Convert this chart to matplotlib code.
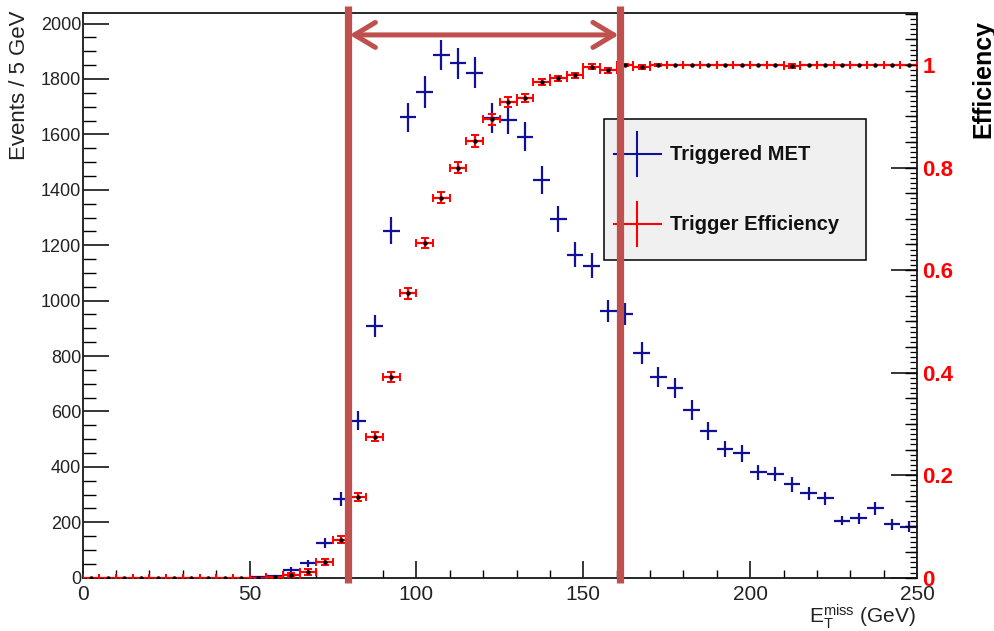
import matplotlib
matplotlib.use("Agg")
import matplotlib.pyplot as plt
from matplotlib.ticker import MultipleLocator, FuncFormatter
from matplotlib.patches import Rectangle
from matplotlib.lines import Line2D

plt.rcParams['font.family'] = ['Liberation Sans', 'DejaVu Sans']
plt.rcParams['mathtext.fontset'] = 'custom'
plt.rcParams['mathtext.rm'] = 'Liberation Sans'
plt.rcParams['mathtext.it'] = 'Liberation Sans:italic'

# ---------------- data ----------------
bin_half_width = 2.5

met_centers = [52.5, 57.5, 62.5, 67.5, 72.5, 77.5, 82.5, 87.5, 92.5, 97.5,
               102.5, 107.5, 112.5, 117.5, 122.5, 127.5, 132.5, 137.5, 142.5, 147.5,
               152.5, 157.5, 162.5, 167.5, 172.5, 177.5, 182.5, 187.5, 192.5, 197.5,
               202.5, 207.5, 212.5, 217.5, 222.5, 227.5, 232.5, 237.5, 242.5, 247.5]
met_counts = [3, 5, 27, 52, 124, 284, 567, 909, 1252, 1661,
              1752, 1887, 1857, 1823, 1660, 1652, 1592, 1435, 1294, 1165,
              1126, 964, 952, 810, 726, 684, 605, 530, 465, 449,
              380, 374, 337, 305, 287, 206, 214, 250, 193, 184]
met_err = [2, 3, 10, 12, 18, 24, 33, 40, 49, 53,
           57, 55, 56, 56, 54, 51, 53, 51, 48, 45,
           46, 40, 40, 40, 36, 36, 35, 33, 30, 30,
           28, 26, 26, 23, 24, 16, 19, 23, 20, 19]

eff_centers = [2.5, 7.5, 12.5, 17.5, 22.5, 27.5, 32.5, 37.5, 42.5, 47.5,
               52.5, 57.5, 62.5, 67.5, 72.5, 77.5, 82.5, 87.5, 92.5, 97.5,
               102.5, 107.5, 112.5, 117.5, 122.5, 127.5, 132.5, 137.5, 142.5, 147.5,
               152.5, 157.5, 162.5, 167.5, 172.5, 177.5, 182.5, 187.5, 192.5, 197.5,
               202.5, 207.5, 212.5, 217.5, 222.5, 227.5, 232.5, 237.5, 242.5, 247.5]
eff_values = [0, 0, 0, 0, 0, 0, 0, 0, 0, 0,
              0.0, 0.001, 0.006, 0.011, 0.030, 0.074, 0.158, 0.275, 0.392, 0.555,
              0.653, 0.741, 0.800, 0.852, 0.894, 0.928, 0.935, 0.967, 0.974, 0.980,
              0.997, 0.990, 1.0, 0.997, 1.0, 1.0, 1.0, 1.0, 1.0, 1.0,
              1.0, 1.0, 0.998, 1.0, 1.0, 1.0, 1.0, 1.0, 1.0, 1.0]
eff_err = [0, 0, 0, 0, 0, 0, 0, 0, 0, 0,
           0, 0.001, 0.004, 0.005, 0.006, 0.007, 0.008, 0.009, 0.010, 0.011,
           0.010, 0.011, 0.011, 0.011, 0.010, 0.010, 0.008, 0.0065, 0.005, 0.0055,
           0.0045, 0.005, 0.002, 0.004, 0.002, 0, 0, 0, 0, 0,
           0, 0, 0.004, 0, 0, 0, 0, 0, 0, 0]

window_edges = [79.6, 161.0]

# ---------------- figure ----------------
W, H = 994, 631
fig = plt.figure(figsize=(W / 100, H / 100), dpi=100)
ax_l, ax_r, ax_t, ax_b = 82.7, 917.0, 13.3, 577.7
ax = fig.add_axes([ax_l / W, 1 - ax_b / H, (ax_r - ax_l) / W, (ax_b - ax_t) / H])

BLUE = '#10109a'
RED = '#ff0000'
ANN = '#c0504d'

ax.errorbar(met_centers, met_counts, yerr=met_err, xerr=bin_half_width,
            fmt='none', ecolor=BLUE, elinewidth=1.6, capsize=0, zorder=3)
ax.set_xlim(0, 250)
ax.set_ylim(0, 2037)

ax2 = ax.twinx()
ax2.errorbar(eff_centers, eff_values, yerr=eff_err, xerr=bin_half_width,
             fmt='o', color='black', markersize=2.2, ecolor=RED,
             elinewidth=1.6, capsize=3, capthick=1.4, zorder=3)
ax2.set_ylim(0, 1.101)

# medium ticks on efficiency axis
ax3 = ax.twinx()
ax3.set_ylim(0, 1.101)
ax3.yaxis.set_major_locator(MultipleLocator(0.05))
ax3.tick_params(axis='y', direction='in', length=8.6, width=1.0, labelright=False, right=True)
for s in ax3.spines.values():
    s.set_visible(False)

# ticks
ax.xaxis.set_major_locator(MultipleLocator(50))
ax.xaxis.set_minor_locator(MultipleLocator(10))
ax.yaxis.set_major_locator(MultipleLocator(200))
ax.yaxis.set_minor_locator(MultipleLocator(50))
ax.tick_params(axis='x', which='major', direction='in', length=12, width=1.1,
               labelsize=15, pad=5.5, top=False, labelcolor='#222222')
ax.tick_params(axis='x', which='minor', direction='in', length=6, width=1.0, top=False)
ax.tick_params(axis='y', which='major', direction='in', length=19, width=1.1,
               labelsize=13, pad=1, right=False, labelcolor='#222222')
ax.tick_params(axis='y', which='minor', direction='in', length=9.5, width=1.0, right=False)

ax2.yaxis.set_major_locator(MultipleLocator(0.2))
ax2.yaxis.set_minor_locator(MultipleLocator(0.01))
ax2.yaxis.set_major_formatter(FuncFormatter(lambda v, p: f"{v:g}"))
ax2.tick_params(axis='y', which='major', direction='in', length=19, width=1.1, pad=4)
ax2.tick_params(axis='y', which='minor', direction='in', length=5, width=0.9)
for lab in ax2.get_yticklabels():
    lab.set_color(RED)
    lab.set_fontweight('bold')
    lab.set_fontsize(16)

for a in (ax, ax2):
    for s in a.spines.values():
        s.set_linewidth(1.1)
        s.set_color('#222222')

# labels
ax.set_ylabel('Events / 5 GeV', fontsize=16, loc='top', color='#222222')
ax.yaxis.set_label_coords((30 - ax_l) / (ax_r - ax_l), (ax_b - 10) / (ax_b - ax_t))
ax2.set_ylabel('Efficiency', fontsize=18, fontweight='bold', loc='top')
ax2.yaxis.set_label_coords((971 - ax_l) / (ax_r - ax_l), (ax_b - 20) / (ax_b - ax_t))
ax.set_xlabel(r'E$_{\mathrm{T}}^{\mathrm{miss}}$ (GeV)', fontsize=15, loc='right', color='#222222')
ax.xaxis.set_label_coords((916 - ax_l) / (ax_r - ax_l), (ax_b - 602) / (ax_b - ax_t))

# legend (drawn manually, ROOT style)
def fx(px):
    return (px - ax_l) / (ax_r - ax_l)

def fy(py):
    return (ax_b - py) / (ax_b - ax_t)

ax2.add_patch(Rectangle((fx(604), fy(260)), fx(866) - fx(604), fy(119) - fy(260),
                        transform=ax2.transAxes, facecolor='#f0f0f0',
                        edgecolor='black', linewidth=1.1, zorder=10))
for (yc, col, txt) in [(154, BLUE, 'Triggered MET'), (224, RED, 'Trigger Efficiency')]:
    ax2.add_line(Line2D([fx(614), fx(661)], [fy(yc), fy(yc)], color=col, lw=1.5,
                        transform=ax2.transAxes, zorder=11))
    ax2.add_line(Line2D([fx(637), fx(637)], [fy(yc - 22), fy(yc + 22)], color=col, lw=1.5,
                        transform=ax2.transAxes, zorder=11))
    ax2.text(fx(670), fy(yc), txt, transform=ax2.transAxes, fontsize=14.5,
             fontweight='bold', va='center', ha='left', color='#111111', zorder=11)

# annotation: vertical window lines and double arrow
for xe in window_edges:
    fig.add_artist(Line2D([xe, xe], [-20, 2064], color=ANN, lw=5.2,
                          transform=ax.transData, solid_capstyle='butt', zorder=20))
ax2.annotate('', xy=(window_edges[1] - 0.4, 1959), xytext=(window_edges[0] + 0.4, 1959),
             xycoords=ax.transData, textcoords=ax.transData,
             arrowprops=dict(arrowstyle='<->,head_length=0.75,head_width=0.45',
                             color=ANN, lw=3.6, shrinkA=0, shrinkB=0,
                             mutation_scale=20),
             annotation_clip=False, zorder=20)

fig.savefig('out.png', dpi=100)
